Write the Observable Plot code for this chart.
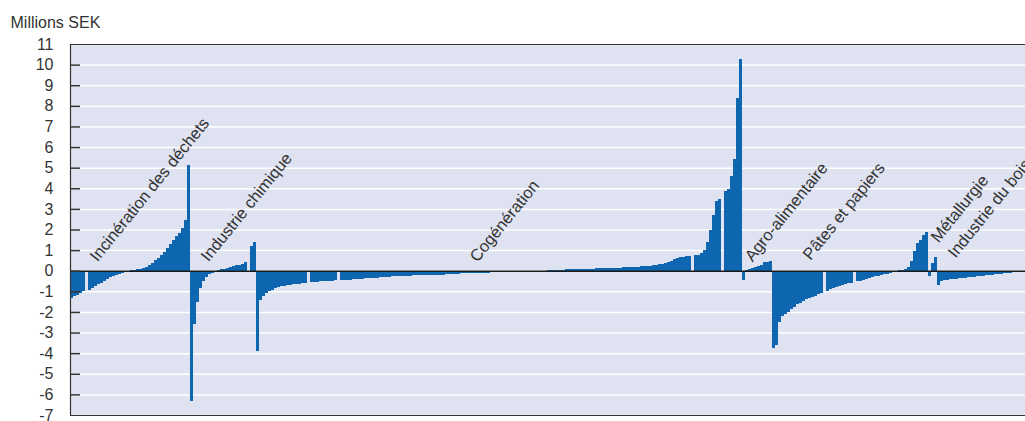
<!DOCTYPE html>
<html>
<head>
<meta charset="utf-8">
<script src="https://cdn.jsdelivr.net/npm/d3@7"></script>
<script src="https://cdn.jsdelivr.net/npm/@observablehq/plot@0.6"></script>
<style>
  html, body { margin: 0; background: #fff; overflow: hidden; }
  #chart { width: 1025px; height: 421px; overflow: hidden; position: relative; }
  #chart svg { display: block; overflow: hidden; }
</style>
</head>
<body>
<div id="chart"></div>
<script>
// Values per installation (millions SEK), sorted within each sector
const incineration = [-1.3, -1.25, -1.2, -1.1, -1.0, 0, -0.95, -0.85, -0.75, -0.65,
  -0.58, -0.5, -0.4, -0.3, -0.25, -0.2, -0.14, -0.1, -0.06, -0.03,
  0.02, 0.04, 0.07, 0.1, 0.15, 0.2, 0.28, 0.38, 0.5, 0.62,
  0.75, 0.92, 1.1, 1.3, 1.5, 1.68, 1.85, 2.05, 2.45, 5.15];
const chimique = [-6.3, -2.6, -1.5, -0.85, -0.5, -0.3, -0.18, -0.1, -0.05, 0.03,
  0.06, 0.1, 0.14, 0.18, 0.22, 0.26, 0.3, 0.35, 0.4, 0, 1.22, 1.38];
const cogeneration = [
  -3.9, -1.4, -1.25, -1.1, -1.0, -0.92, -0.86, -0.8, -0.76, -0.73,
  -0.7, -0.68, -0.66, -0.64, -0.62, -0.6, -0.58, 0, -0.56, -0.55,
  -0.54, -0.52, -0.51, -0.5, -0.49, -0.48, -0.47, 0, -0.46, -0.45,
  -0.44, -0.43, -0.42, -0.41, -0.4, -0.38, -0.37, -0.36, -0.35, -0.34,
  -0.33, -0.32, -0.31, -0.3, -0.29, -0.28, -0.27, -0.26, -0.25, -0.25,
  -0.24, -0.24, -0.23, -0.23, -0.22, -0.22, -0.22, -0.21, -0.21, -0.21,
  -0.2, -0.2, -0.2, -0.15, -0.15, -0.14, -0.14, -0.14, -0.13, -0.13,
  -0.13, -0.12, -0.12, -0.12, -0.11, -0.11, -0.1,
  -0.09, -0.08, -0.08, -0.07, -0.06, -0.06, -0.05, -0.05, -0.04, -0.04,
  -0.03, -0.03, -0.02, -0.02, -0.02, -0.01, -0.01, -0.01, 0.01, 0.01,
  0.02, 0.02, 0.03, 0.03, 0.04, 0.05,
  0.06, 0.07, 0.07, 0.08, 0.08, 0.09, 0.09, 0.1, 0.1, 0.1,
  0.11, 0.11, 0.12, 0.12, 0.13, 0.13, 0.14, 0.15, 0.15, 0.16,
  0.17, 0.18, 0.19, 0.2, 0.2, 0.21, 0.22, 0.23, 0.25, 0.27,
  0.29, 0.32, 0.35, 0.38, 0.42, 0.48, 0.55, 0.6, 0.65, 0.68,
  0.7, 0.72, 0, 0.74, 0.78, 0.85, 1.0, 1.4, 2.0, 2.7,
  3.4, 3.5, 0, 3.85, 3.95, 4.6, 5.4, 8.4, 10.25];
const agro = [-0.45, 0.05, 0.1, 0.15, 0.2, 0.25, 0.3, 0.42, 0.43, 0.45];
const papiers = [-3.75, -3.6, -2.5, -2.2, -2.1, -2.0, -1.85, -1.75, -1.62, -1.55,
  -1.45, -1.38, -1.32, -1.27, -1.22, -1.15, -1.08, 0, -1.0, -0.9,
  -0.86, -0.8, -0.75, -0.7, -0.65, -0.61, -0.58, 0, -0.52, -0.48,
  -0.44, -0.4, -0.36, -0.32, -0.28, -0.25, -0.22, -0.18, -0.14, -0.1,
  -0.07, -0.04, 0.02, 0.05, 0.1, 0.18, 0.45, 0.95, 1.35, 1.5,
  1.72, 1.9];
const metallurgie = [-0.28, 0.36, 0.66];
const bois = [-0.68, -0.5, -0.46, -0.44, -0.42, -0.4, -0.38, -0.37, -0.36, -0.34,
  -0.32, -0.3, -0.29, -0.27, -0.25, -0.24, -0.22, -0.21, -0.19, -0.17,
  -0.16, -0.14, -0.13, -0.11, -0.1, -0.08, -0.07, -0.06, -0.05, -0.04];

// Sector labels and where they sit (bar index, value)
const labelNames = ["Incinération des déchets", "Industrie chimique", "Cogénération",
  "Agro-alimentaire", "Pâtes et papiers", "Métallurgie", "Industrie du bois"];
const labelAt = [9, 46, 135.7, 227.3, 246.7, 289.3, 295];
const labelV = [0.42, 0.42, 0.4, 0.42, 0.5, 1.35, 0.6];

const yTicks = [-7, -6, -5, -4, -3, -2, -1, 0, 1, 2, 3, 4, 5, 6, 7, 8, 9, 10, 11];
const innerTicks = [-6, -5, -4, -3, -2, -1, 0, 1, 2, 3, 4, 5, 6, 7, 8, 9, 10];
const unitLabel = "Millions SEK";

const sectors = [incineration, chimique, cogeneration, agro, papiers, metallurgie, bois];
const bars = sectors.flat().map((v, i) => ({i, v}));
const N = bars.length;
const labels = labelNames.map((name, k) => ({name, at: labelAt[k], v: labelV[k]}));

const W = 1025, ML = 70;
const ink = "#333333";
const chart = Plot.plot({
  width: W,
  height: 421,
  marginLeft: ML,
  marginRight: 0,
  marginTop: 44,
  marginBottom: 6,
  style: {fontFamily: "'Liberation Sans', Arial, sans-serif", fontSize: "16px", color: ink, background: "#fff", overflow: "hidden"},
  x: {type: "linear", domain: [0, N], range: [ML, ML + 3 * N], axis: null},
  y: {domain: [-7, 11], axis: null},
  marks: [
    Plot.frame({fill: "#dee2f1", stroke: "none"}),
    Plot.ruleY(yTicks, {stroke: "#ffffff", strokeWidth: 1.5}),
    Plot.rectY(bars, {x1: "i", x2: d => d.i + 1, y1: 0, y2: "v", fill: "#0f66b0", shapeRendering: "crispEdges"}),
    Plot.ruleY([0], {stroke: "#1a1a1a", strokeWidth: 1.5}),
    Plot.ruleY([11, -7], {stroke: ink, strokeWidth: 1.2}),
    Plot.ruleX([0], {stroke: ink, strokeWidth: 1.2}),
    Plot.tickY(innerTicks, {y: d => d, stroke: ink, strokeWidth: 1.5, insetRight: W - ML - 10}),
    Plot.axisY(yTicks, {tickSize: 0, tickPadding: 17, fill: ink,
      fontSize: 16, tickFormat: d => String(d), label: null}),
    Plot.text(labels, {x: "at", y: "v", text: "name", rotate: -51, textAnchor: "start",
      lineAnchor: "bottom", fontSize: 16.5, fill: ink}),
    Plot.text([unitLabel], {text: d => d, frameAnchor: "top-left", dx: -60, dy: -17,
      textAnchor: "start", lineAnchor: "bottom", fontSize: 16, fill: ink})
  ]
});
document.getElementById("chart").append(chart);
</script>
</body>
</html>
